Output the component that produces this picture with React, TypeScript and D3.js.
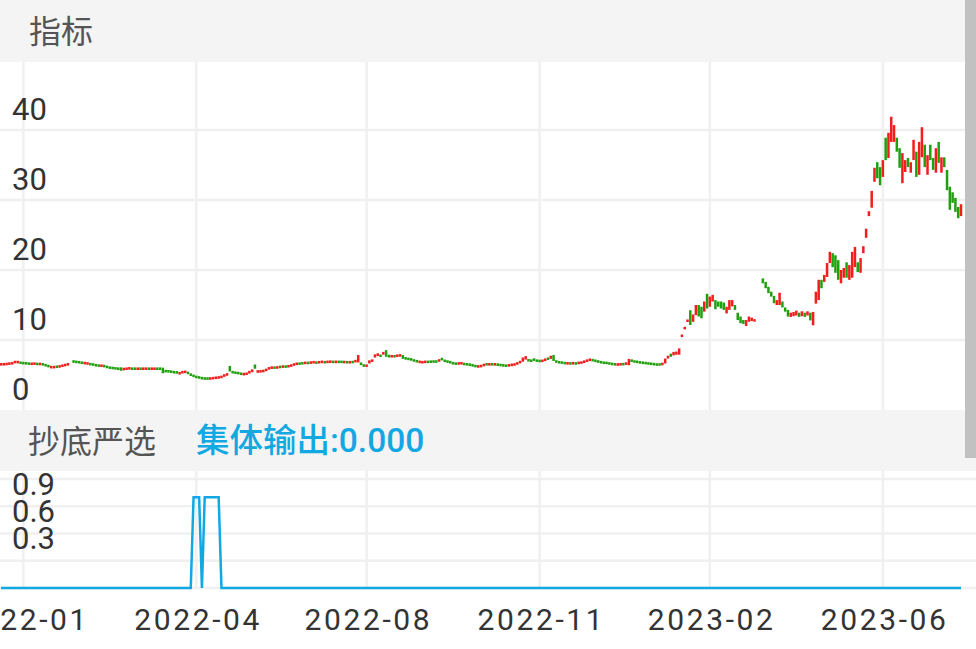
import React from "react";
import * as d3 from "d3";

// ---- data ----
const opens: (number | null)[] = [
  6.45,6.45,6.5,6.55,6.6,6.7,6.75,6.85,6.8,6.75,
  6.7,6.55,6.55,6.65,6.5,6.6,6.5,6.35,6.05,6.05,6.25,
  6.15,6.25,6.35,6.45,null,7.0,6.95,6.9,6.8,6.65,
  6.6,6.6,6.55,6.45,6.4,6.25,6.35,6.2,6.1,6.05,
  6.0,5.95,6.1,5.8,5.85,5.9,5.95,5.95,5.85,5.95,
  5.85,5.85,5.95,5.85,5.85,5.95,5.95,6.05,5.6,5.6,
  5.55,5.45,5.45,5.15,5.3,5.35,5.4,5.15,4.95,4.8,4.7,
  4.6,4.55,4.55,4.45,4.5,4.55,4.6,4.65,4.75,4.9,6.3,
  5.5,5.4,5.35,5.25,5.05,5.1,5.2,5.4,6.5,5.4,
  5.45,5.5,5.6,5.8,5.9,6.1,6.0,6.2,6.15,6.25,
  6.2,6.25,6.4,6.5,6.7,6.75,6.65,6.8,6.7,6.75,
  6.85,6.75,6.8,6.9,6.8,6.8,6.95,6.8,6.95,6.95,
  6.8,6.9,6.75,6.9,6.85,6.8,6.8,6.5,6.15,6.65,
  6.9,7.5,7.7,7.85,7.9,8.55,7.9,7.6,7.75,7.65,
  7.7,7.85,7.5,7.4,7.3,7.15,7.05,6.8,6.75,6.8,
  6.95,6.95,7.0,7.0,6.95,7.4,7.1,7.0,6.9,6.75,6.7,
  6.6,6.6,6.65,6.6,6.55,6.45,6.35,6.15,6.15,6.3,
  6.6,6.45,6.6,6.45,6.55,6.5,6.45,6.4,6.3,6.35,6.4,
  6.5,6.7,6.9,7.2,7.2,7.15,7.35,7.15,7.1,6.95,
  7.05,7.45,7.3,7.85,7.0,6.9,6.85,6.75,6.6,6.7,
  6.6,6.7,6.65,6.7,6.8,6.95,7.05,7.2,7.1,7.0,
  6.9,6.8,6.8,6.7,6.65,6.6,6.45,6.45,6.6,6.55,6.4,
  7.15,7.0,6.95,6.85,6.8,6.75,6.7,6.65,6.6,6.55,
  6.55,6.45,6.65,7.35,8.05,7.8,7.9,7.9,10.55,11.65,
  12.6,14.25,12.6,13.55,15.0,14.75,14.05,16.6,14.75,15.5,
  15.7,15.5,15.5,15.35,13.8,14.3,14.8,15.0,13.9,13.35,
  12.85,12.0,12.6,12.7,12.65,null,null,18.8,18.3,17.6,
  16.9,16.3,15.0,15.0,15.5,14.65,14.3,13.3,13.4,13.5,
  13.9,13.4,13.9,13.5,13.9,12.1,15.2,15.7,18.6,18.3,
  19.0,21.0,22.4,22.1,21.4,18.1,18.9,21.1,18.6,18.9,
  20.4,21.1,19.6,22.4,24.6,27.7,28.9,32.6,35.4,34.7,
  33.3,38.9,36.0,38.3,38.3,38.9,37.4,32.4,34.0,36.0,
  33.9,35.7,36.9,33.6,36.1,37.9,33.6,37.9,36.0,33.9,
  38.3,33.9,36.1,34.3,31.9,31.1,30.3,29.0,27.7,
];
const closes: (number | null)[] = [
  6.6,6.6,6.65,6.7,6.75,7.0,6.95,6.65,6.6,6.6,
  6.55,6.65,6.7,6.5,6.65,6.45,6.3,6.2,6.2,6.2,6.1,
  6.3,6.4,6.5,6.6,null,6.85,6.8,6.75,6.7,6.75,
  6.7,6.5,6.45,6.35,6.3,6.4,6.2,6.1,6.0,5.95,
  5.9,5.85,5.6,5.9,5.95,6.0,5.85,5.85,5.95,5.85,
  5.95,5.95,5.85,5.95,5.95,5.85,5.85,5.25,5.5,5.45,
  5.4,5.35,5.3,5.35,5.5,5.55,5.2,4.95,4.8,4.65,4.6,
  4.5,4.45,4.45,4.55,4.6,4.65,4.7,4.8,5.1,5.25,5.5,
  5.3,5.25,5.2,5.1,5.2,5.25,5.6,5.8,5.9,5.6,
  5.6,5.65,5.85,6.1,6.2,6.0,6.15,6.1,6.25,6.15,
  6.3,6.45,6.6,6.7,6.55,6.6,6.8,6.65,6.85,6.9,
  6.7,6.9,6.95,6.75,6.95,7.0,6.8,6.95,6.8,6.8,
  6.9,6.75,6.9,6.8,7.1,7.85,6.4,6.2,6.5,7.1,
  7.2,7.95,8.1,7.65,8.3,7.6,7.5,7.75,7.6,7.85,
  7.9,7.3,7.25,7.2,7.15,7.0,6.9,6.95,6.9,6.95,
  6.8,6.85,6.85,6.85,7.2,7.15,6.95,6.85,6.75,6.6,6.55,
  6.7,6.75,6.5,6.45,6.4,6.3,6.2,6.3,6.4,6.55,
  6.45,6.6,6.45,6.6,6.4,6.35,6.3,6.25,6.45,6.55,6.6,
  6.8,7.0,7.5,7.7,7.0,6.95,7.05,6.95,6.9,7.1,
  7.3,7.2,7.75,7.0,6.85,6.75,6.7,6.65,6.75,6.6,
  6.75,6.6,6.8,6.85,7.0,7.15,7.3,7.05,6.95,6.85,
  6.75,6.7,6.65,6.6,6.5,6.45,6.55,6.6,6.5,6.7,7.3,
  6.95,6.85,6.8,6.75,6.7,6.65,6.6,6.55,6.5,6.45,
  6.45,6.7,7.35,7.75,7.6,8.3,8.35,8.8,10.65,11.75,
  12.9,12.15,13.65,15.0,13.35,13.1,15.5,14.5,16.2,16.45,
  14.4,14.75,14.5,14.3,14.75,15.7,15.7,14.3,12.85,12.4,
  12.3,12.85,13.35,13.2,12.95,null,null,18.1,17.4,16.7,
  16.2,15.25,15.7,16.75,14.65,14.05,13.35,13.9,14.0,14.2,
  13.3,14.1,13.3,14.1,12.8,14.0,16.9,18.6,17.4,19.3,
  21.0,22.6,20.4,19.6,18.6,20.0,20.3,18.9,20.7,22.6,
  23.3,19.7,21.7,23.4,25.9,28.4,31.3,34.6,33.1,32.1,
  35.7,35.7,39.6,41.9,40.7,36.9,34.6,36.7,35.7,34.7,
  35.4,38.6,33.3,38.3,40.4,34.7,36.4,35.7,34.3,37.4,
  35.3,36.1,34.7,31.4,28.6,29.6,28.3,27.4,29.4,
];
// 抄底严选 · 集体输出
const signal: number[] = [
  0,0,0,0,0,0,0,0,0,0, 0,0,0,0,0,0,0,0,0,0,
  0,0,0,0,0,0,0,0,0,0, 0,0,0,0,0,0,0,0,0,0,
  0,0,0,0,0,0,0,0,0,0, 0,0,0,0,0,0,0,0,0,0,
  0,0,0,0,0,0,0,0,0,1, 1,1,0,1,1,1,1,1,1,0,
  0,0,0,0,0,0,0,0,0,0, 0,0,0,0,0,0,0,0,0,0,
  0,0,0,0,0,0,0,0,0,0, 0,0,0,0,0,0,0,0,0,0,
  0,0,0,0,0,0,0,0,0,0, 0,0,0,0,0,0,0,0,0,0,
  0,0,0,0,0,0,0,0,0,0, 0,0,0,0,0,0,0,0,0,0,
  0,0,0,0,0,0,0,0,0,0, 0,0,0,0,0,0,0,0,0,0,
  0,0,0,0,0,0,0,0,0,0, 0,0,0,0,0,0,0,0,0,0,
  0,0,0,0,0,0,0,0,0,0, 0,0,0,0,0,0,0,0,0,0,
  0,0,0,0,0,0,0,0,0,0, 0,0,0,0,0,0,0,0,0,0,
  0,0,0,0,0,0,0,0,0,0, 0,0,0,0,0,0,0,0,0,0,
  0,0,0,0,0,0,0,0,0,0, 0,0,0,0,0,0,0,0,0,0,
  0,0,0,0,0,0,0,0,0,0, 0,0,0,0,0,0,0,0,0,0,
  0,0,0,0,0,0,0,0,0,0, 0,0,0,0,0,0,0,0,0,0,
  0,0,0,0,0,0,0,0,0,0, 0,0,0,0,0,0,0,0,0,0,
  0,0,0,0,0,
];
const xLabels = ["2022-01", "2022-04", "2022-08", "2022-11", "2023-02", "2023-06"];
const xLabelIdx = [8, 70, 131, 193, 254, 316];
const mainTicks = [0, 10, 20, 30, 40];
const subTicks = [0.3, 0.6, 0.9];
const subGrid = [0, 0.3, 0.6, 0.9, 1.2];
const mainTitle = "指标";
const subTitle = "抄底严选";
const subValue = "集体输出:0.000";

// ---- styles ----
const RED = "#f21d1d";
const GREEN = "#20a00e";
const BLUE = "#12a8e2";
const GRID = "#f0f0f1";
const BAND = "#f4f4f4";
const FONT = "Roboto, 'Noto Sans CJK SC', sans-serif";
const CJK = "'Noto Sans CJK SC', sans-serif";

export default function App() {
  const n = opens.length;
  const x = d3.scaleLinear().domain([0, n - 1]).range([1, 961]);
  const yMain = d3.scaleLinear().domain([0, 40]).range([410, 130]);
  const ySub = d3.scaleLinear().domain([0, 1.2]).range([588, 479]);

  const line = d3
    .line<number>()
    .x((_, i) => x(i))
    .y((d) => ySub(d));

  const candles = opens.map((o, i) => {
    const c = closes[i];
    if (o == null || c == null) return null;
    const up = c >= o;
    const yTop = yMain(Math.max(o, c));
    const yBot = yMain(Math.min(o, c));
    const h = Math.max(2.6, yBot - yTop);
    return (
      <rect
        key={i}
        x={x(i) - 1.25}
        y={(yTop + yBot) / 2 - h / 2}
        width={2.5}
        height={h}
        fill={up ? RED : GREEN}
      />
    );
  });

  return (
    <svg
      width={976}
      height={649}
      style={{ position: "absolute", left: 0, top: 0, display: "block", background: "#fff" }}
      fontFamily={FONT}
    >
      <rect x={0} y={0} width={976} height={649} fill="#fff" />
      {/* header bands */}
      <rect x={0} y={0} width={976} height={62} fill={BAND} />
      <rect x={0} y={410} width={976} height={61} fill={BAND} />
      <text x={29} y={43} fontSize={32} fill="#555" fontFamily={CJK}>{mainTitle}</text>
      <text x={28} y={453} fontSize={32} fill="#555" fontFamily={CJK}>{subTitle}</text>
      <text x={196} y={452} fontSize={33.5} fill={BLUE} fontWeight={500}>{subValue}</text>

      {/* main grid */}
      {mainTicks.filter((t) => t > 0).map((t) => (
        <line key={"mg" + t} x1={0} x2={976} y1={yMain(t)} y2={yMain(t)} stroke={GRID} strokeWidth={2.5} />
      ))}
      {xLabelIdx.map((idx, k) => (
        <line key={"mv" + k} x1={x(idx)} x2={x(idx)} y1={62} y2={410} stroke={GRID} strokeWidth={2.5} />
      ))}
      {/* sub grid */}
      {subGrid.map((t) => (
        <line key={"sg" + t} x1={0} x2={976} y1={ySub(t)} y2={ySub(t)} stroke={GRID} strokeWidth={2.5} />
      ))}
      {xLabelIdx.map((idx, k) => (
        <line key={"sv" + k} x1={x(idx)} x2={x(idx)} y1={471} y2={588} stroke={GRID} strokeWidth={2.5} />
      ))}

      {/* candles */}
      <g>{candles}</g>

      {/* main y labels */}
      {mainTicks.map((t) => (
        <text key={"ml" + t} x={12} y={yMain(t) - 10} fontSize={31} fill="#333">{t}</text>
      ))}

      {/* signal line */}
      <path d={line(signal) || ""} fill="none" stroke={BLUE} strokeWidth={2.5} />

      {/* sub y labels */}
      {subTicks.map((t) => (
        <text key={"sl" + t} x={12} y={ySub(t) - 11.5} fontSize={31} fill="#333">{t.toFixed(1)}</text>
      ))}

      {/* x labels */}
      {xLabels.map((lab, k) => (
        <text
          key={"xl" + k}
          x={x(xLabelIdx[k]) - 62}
          y={630}
          fontSize={30}
          fill="#333"
          textLength={125}
          lengthAdjust="spacing"
        >
          {lab}
        </text>
      ))}

      {/* scrollbar */}
      <rect x={965} y={0} width={11} height={458} fill="#c1c1c1" />
    </svg>
  );
}
